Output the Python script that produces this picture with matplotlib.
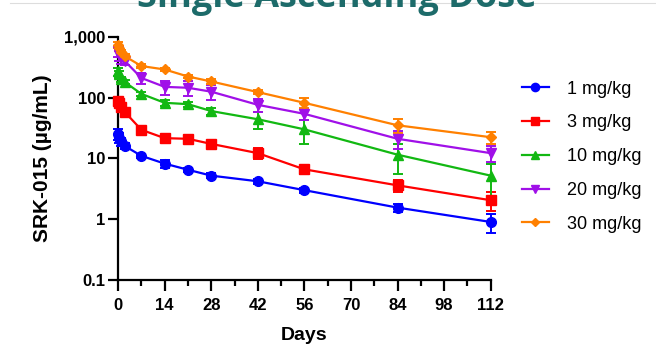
import matplotlib.pyplot as plt
from matplotlib.lines import Line2D
from matplotlib.ticker import FixedLocator, MultipleLocator, NullLocator

days = [0, 0.25, 1, 2, 7, 14, 21, 28, 42, 56, 84, 112]
doses = ['1 mg/kg', '3 mg/kg', '10 mg/kg', '20 mg/kg', '30 mg/kg']

conc_1 = [25, 22, 19, 16, 11, 8.2, 6.5, 5.2, 4.2, 3.0, 1.55, 0.9]
conc_3 = [88, 80, 70, 58, 29.5, 21.5, 21, 17.3, 12.2, 6.6, 3.6, 2.05]
conc_10 = [270, 240, 200, 180, 115, 82, 78, 60, 44, 30, 11.5, 5.2]
conc_20 = [580, 500, 440, 400, 210, 150, 145, 125, 76, 54, 21, 12.2]
conc_30 = [740, 650, 560, 480, 330, 290, 222, 184, 123, 82, 35, 22.3]

sd_1 = [5, 4, 3, 2, 1, 1.2, 0.5, 0.5, 0.4, 0.3, 0.25, 0.3]
sd_3 = [10, 8, 8, 6, 4, 2, 2, 2, 2.5, 1, 0.8, 0.7]
sd_10 = [40, 30, 20, 15, 10, 8, 8, 8, 14, 13, 6, 3]
sd_20 = [120, 100, 80, 60, 40, 40, 40, 35, 18, 12, 7, 3.5]
sd_30 = [80, 60, 50, 40, 20, 20, 15, 15, 10, 15, 9, 5]

y_ticks = [0.1, 1, 10, 100, 1000]
y_labels = ['0.1', '1', '10', '100', '1,000']
x_ticks = [0, 14, 28, 42, 56, 70, 84, 98, 112]

colors = ['#0000ff', '#ff0000', '#12b812', '#a010e8', '#ff8000']
markers = ['o', 's', '^', 'v', 'D']
sizes = [7, 7, 7.5, 7.5, 5]

plt.rcParams['font.family'] = ['Liberation Sans', 'DejaVu Sans']

fig = plt.figure(figsize=(6.56, 3.63), dpi=100)
ax = fig.add_axes([0.180, 0.2287, 0.568, 0.670])

series = [conc_1, conc_3, conc_10, conc_20, conc_30]
sds = [sd_1, sd_3, sd_10, sd_20, sd_30]
for conc, sd, c, m, s, lab in zip(series, sds, colors, markers, sizes, doses):
    ax.errorbar(days, conc, yerr=sd, color=c, marker=m, markersize=s,
                linewidth=1.6, elinewidth=1.4, capsize=3.5, capthick=1.4,
                label=lab, clip_on=False, zorder=3)

ax.set_yscale('log')
ax.set_ylim(0.1, 1000)
ax.set_xlim(0, 112)
ax.yaxis.set_major_locator(FixedLocator(y_ticks))
ax.yaxis.set_minor_locator(NullLocator())
ax.set_yticklabels(y_labels)
ax.set_xticks(x_ticks)
ax.xaxis.set_minor_locator(MultipleLocator(7))

for side in ['top', 'right']:
    ax.spines[side].set_visible(False)
for side in ['left', 'bottom']:
    ax.spines[side].set_linewidth(1.6)
ax.tick_params(axis='both', which='major', width=1.6, length=7,
               labelsize=12, pad=2)
ax.tick_params(axis='x', which='major', length=8, pad=5)
ax.tick_params(axis='x', which='minor', width=1.6, length=4.5)
for t in ax.get_xticklabels() + ax.get_yticklabels():
    t.set_fontweight('bold')

ax.set_xlabel('Days', fontsize=14, fontweight='bold', labelpad=10)
ax.set_ylabel('SRK-015 (\u00b5g/mL)', fontsize=15, fontweight='bold', labelpad=9)

handles = [Line2D([], [], color=c, marker=m, markersize=s * 0.85, linewidth=1.6)
           for c, m, s in zip(colors, markers, sizes)]
fig.legend(handles, doses, loc='upper left', bbox_to_anchor=(0.795, 0.778),
           frameon=False, fontsize=13, handlelength=1.5, labelspacing=0.93,
           handletextpad=1.0, borderpad=0, borderaxespad=0)

fig.add_artist(Line2D([0.015, 1], [0.992, 0.992], color='#dddddd', linewidth=0.8))
fig.text(0.513, 0.981, 'Single Ascending Dose', ha='center', va='baseline',
         fontsize=26, fontweight='bold', color='#1d6b6a', family=['Open Sans', 'DejaVu Sans'])

fig.savefig('out.png', dpi=100)
